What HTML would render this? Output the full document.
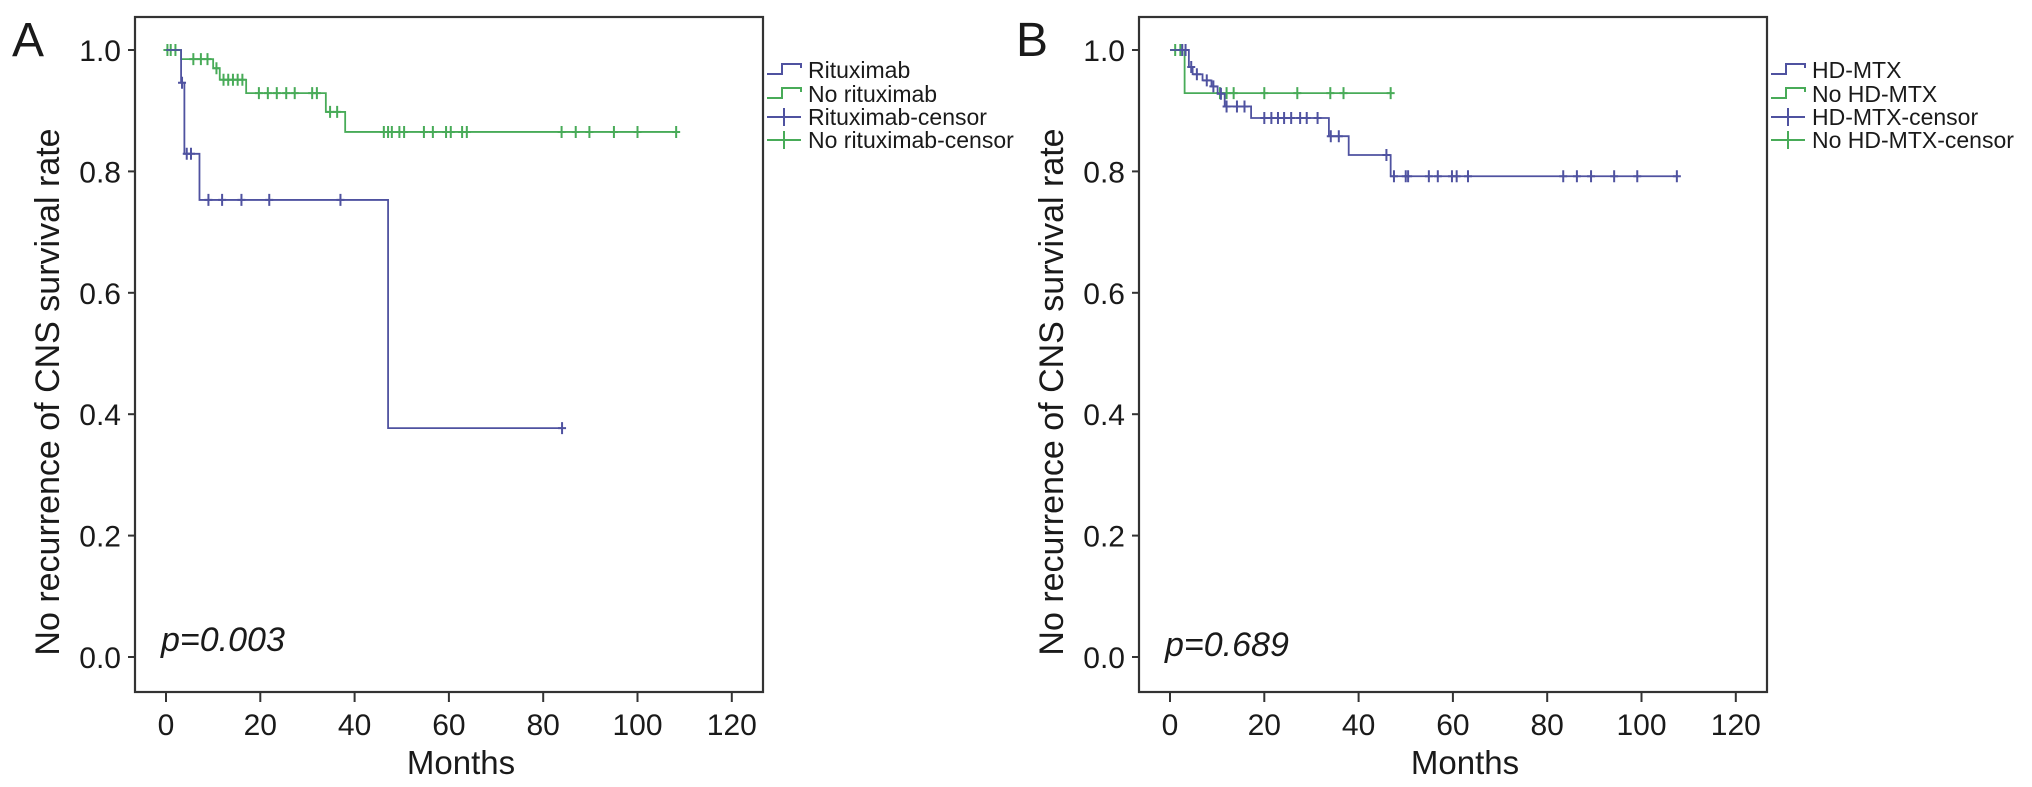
<!DOCTYPE html>
<html><head><meta charset="utf-8">
<style>
html,body{margin:0;padding:0;background:#fff;}
svg{display:block;}
text{font-family:"Liberation Sans",Arial,sans-serif;fill:#1a1a1a;}
</style></head>
<body>
<svg id="chart" width="2032" height="787" viewBox="0 0 2032 787" xmlns="http://www.w3.org/2000/svg"></svg>
<script>
// ---------- Data ----------
const xTicks = [0, 20, 40, 60, 80, 100, 120];
const yTicks = [0.0, 0.2, 0.4, 0.6, 0.8, 1.0];
const yTickLabels = ["0.0", "0.2", "0.4", "0.6", "0.8", "1.0"];

// Panel A: step curves [time, survival after step]
const rituxSteps = [[0,1.0],[3.2,0.946],[3.9,0.829],[7.1,0.753],[47.1,0.377]];
const rituxEnd = 84;
const rituxCensorT = [3.4, 4.4, 5.3, 9.0, 11.9, 16.0, 21.9, 37.0, 84];
const noRituxSteps = [[0,1.0],[3.2,0.985],[10.0,0.97],[11.4,0.951],[17.0,0.929],[33.9,0.898],[38.0,0.865]];
const noRituxEnd = 108.2;
const noRituxCensorT = [0.3,1.0,2.0,5.8,7.4,8.8,10.7,12.2,13.2,14.2,15.2,16.2,19.7,21.6,23.5,25.5,27.3,31.0,32.0,34.8,36.3,46.2,47.1,47.9,49.5,50.5,54.7,56.6,59.4,60.4,62.8,63.8,83.9,86.9,89.8,95.0,100.0,108.2];

// Panel B
const hdSteps = [[0,1.0],[4.0,0.972],[4.8,0.96],[6.9,0.95],[8.8,0.94],[10.1,0.928],[11.6,0.907],[17.2,0.888],[33.7,0.858],[37.9,0.827],[46.8,0.792]];
const hdEnd = 107.5;
const hdCensorT = [2.6,3.3,4.5,5.7,7.8,9.2,10.8,12.0,14.2,15.8,20.0,21.5,22.9,24.2,25.7,27.6,29.0,31.3,34.1,35.8,45.9,47.5,50.0,50.5,54.9,56.8,59.8,60.8,63.2,83.4,86.3,89.3,94.2,99.1,107.5];
const noHdSteps = [[0,1.0],[3.1,0.929]];
const noHdEnd = 47.0;
const noHdCensorT = [1.1,2.2,10.6,12.0,13.5,20.0,27.0,34.0,36.8,46.8];

const BLUE = "#4f52a0", GREEN = "#48ab58";
const NS = "http://www.w3.org/2000/svg";
const svg = document.getElementById('chart');
function mk(tag, attrs, parent){ const e=document.createElementNS(NS,tag); for(const k in attrs) e.setAttribute(k,attrs[k]); (parent||svg).appendChild(e); return e; }

function survAt(steps,t){ let v=steps[0][1]; for(const s of steps){ if(s[0]<=t) v=s[1]; } return v; }

function panel(o){
  const g = mk('g',{});
  
  
  const X0=o.x0, PX=4.715, Y0=657, PY=607;
  const xs=t=>X0+t*PX, ys=v=>Y0-v*PY;
  const L=o.left, R=o.left+628, T=17, B=692;
  const frame = mk('rect',{x:L,y:T,width:R-L,height:B-T,fill:'none',stroke:'#333','stroke-width':2.2},g);
  
  
  yTicks.forEach((v,i)=>{
    const tk = mk('line',{x1:L-7,x2:L,y1:ys(v),y2:ys(v),stroke:'#333','stroke-width':2},g);
    
    
    const tl = mk('text',{x:L-14,y:ys(v)+11,'text-anchor':'end','font-size':30},g);
    tl.textContent=yTickLabels[i];
    
    
  });
  xTicks.forEach(t=>{
    const tk = mk('line',{x1:xs(t),x2:xs(t),y1:B,y2:B+10,stroke:'#333','stroke-width':2},g);
    
    
    const tl = mk('text',{x:xs(t),y:735,'text-anchor':'middle','font-size':30},g);
    tl.textContent=String(t);
    
    
  });
  const xt = mk('text',{x:xs(0)+295,y:774,'text-anchor':'middle','font-size':33},g);
  xt.textContent='Months';
  
  
  const yt = mk('text',{x:0,y:0,'text-anchor':'middle','font-size':34,transform:`translate(${L-76},392) rotate(-90)`},g);
  yt.textContent='No recurrence of CNS survival rate';
  
  
  const pl = mk('text',{x:xs(0)-5,y:o.pY,'font-size':34,'font-style':'italic'},g);
  pl.textContent=o.p;
  
  
  const lab = mk('text',{x:o.labX,y:56,'font-size':48},g);
  lab.textContent=o.label;
  
  
  o.series.forEach(s=>{
    let d=`M${xs(s.steps[0][0])},${ys(s.steps[0][1])}`;
    for(let i=1;i<s.steps.length;i++){ d+=` H${xs(s.steps[i][0])} V${ys(s.steps[i][1])}`; }
    d+=` H${xs(s.end)}`;
    const p = mk('path',{d:d,fill:'none',stroke:s.color,'stroke-width':1.8},g);
    
    
    s.censor.forEach(t=>{
      const cx=xs(t), cy=ys(survAt(s.steps,t));
      const c = mk('path',{d:`M${cx-4},${cy} H${cx+4} M${cx},${cy-6} V${cy+6}`,stroke:s.color,'stroke-width':2,fill:'none'},g);
      
      
    });
  });
  const lx=R+4, tx=R+45;
  o.legend.forEach((it,i)=>{
    const by=[78,102,125,148][i], cy=by-8;
    const lg = mk('g',{},g);
    
    
    if(it.type==='step'){
      mk('path',{d:`M${lx},${cy+4} H${lx+15} V${cy-6} H${lx+34} V${cy-2}`,fill:'none',stroke:it.color,'stroke-width':2},lg);
    } else {
      mk('path',{d:`M${lx},${cy} H${lx+34} M${lx+17},${cy-9} V${cy+9}`,fill:'none',stroke:it.color,'stroke-width':2},lg);
    }
    const t = mk('text',{x:tx,y:by,'font-size':23},lg);
    t.textContent=it.text;
  });
}

panel({name:'panel-a', left:135, x0:166, label:'A', labX:12, p:'p=0.003', pY:651,
  series:[
    {id:'no-rituximab',steps:noRituxSteps,end:noRituxEnd,censor:noRituxCensorT,color:GREEN},
    {id:'rituximab',steps:rituxSteps,end:rituxEnd,censor:rituxCensorT,color:BLUE}
  ],
  legend:[{type:'step',color:BLUE,text:'Rituximab'},{type:'step',color:GREEN,text:'No rituximab'},
          {type:'censor',color:BLUE,text:'Rituximab-censor'},{type:'censor',color:GREEN,text:'No rituximab-censor'}]
});
panel({name:'panel-b', left:1139, x0:1170, label:'B', labX:1016, p:'p=0.689', pY:656,
  series:[
    {id:'no-hd-mtx',steps:noHdSteps,end:noHdEnd,censor:noHdCensorT,color:GREEN},
    {id:'hd-mtx',steps:hdSteps,end:hdEnd,censor:hdCensorT,color:BLUE}
  ],
  legend:[{type:'step',color:BLUE,text:'HD-MTX'},{type:'step',color:GREEN,text:'No HD-MTX'},
          {type:'censor',color:BLUE,text:'HD-MTX-censor'},{type:'censor',color:GREEN,text:'No HD-MTX-censor'}]
});
</script>
</body></html>
